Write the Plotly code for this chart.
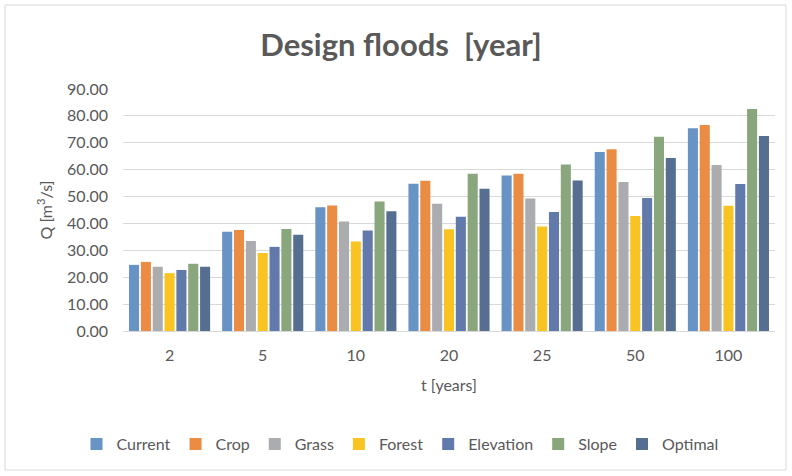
import plotly.graph_objects as go

# Return periods (years) on the category axis
periods = ["2", "5", "10", "20", "25", "50", "100"]

# Design flood discharge Q [m3/s] per land-use / optimisation scenario
current = [24.6, 36.9, 46.0, 54.8, 57.8, 66.6, 75.4]
crop = [25.7, 37.6, 46.7, 55.9, 58.5, 67.6, 76.6]
grass = [23.9, 33.5, 40.7, 47.3, 49.3, 55.4, 61.7]
forest = [21.5, 29.0, 33.3, 37.8, 38.9, 42.8, 46.6]
elevation = [22.7, 31.3, 37.4, 42.5, 44.3, 49.5, 54.7]
slope = [25.0, 37.9, 48.2, 58.5, 61.9, 72.2, 82.6]
optimal = [23.9, 35.8, 44.5, 52.9, 56.0, 64.3, 72.5]

y_ticks = [0, 10, 20, 30, 40, 50, 60, 70, 80, 90]

series = [
    ("Current", current, "#6793c5"),
    ("Crop", crop, "#eb8c45"),
    ("Grass", grass, "#abacb0"),
    ("Forest", forest, "#f9c322"),
    ("Elevation", elevation, "#6279ac"),
    ("Slope", slope, "#89a67c"),
    ("Optimal", optimal, "#566f91"),
]

W, H = 792, 476
L, R, T, B = 123, 17, 89, 145
pw, ph = W - L - R, H - T - B


def px_x(x):
    """Page pixel x -> plot-area paper fraction."""
    return (x - L) / pw


def px_y(y):
    """Page pixel y (from top) -> plot-area paper fraction."""
    return (T + ph - y) / ph


FONT = "Lato, 'Open Sans', sans-serif"
GREY = "#595959"

fig = go.Figure()
for name, vals, col in series:
    fig.add_trace(go.Bar(
        x=periods, y=vals, name=name,
        marker=dict(color=col, line=dict(width=0)),
    ))

# Light frame around the whole chart area
fig.add_shape(
    type="rect", xref="paper", yref="paper", layer="below",
    x0=px_x(5), x1=px_x(W - 6), y0=px_y(H - 6), y1=px_y(5),
    line=dict(color="#d9d9d9", width=1),
)

fig.update_layout(
    width=W, height=H,
    margin=dict(l=L, r=R, t=T, b=B),
    paper_bgcolor="white", plot_bgcolor="white",
    barmode="group", bargap=0.11, bargroupgap=0.15,
    font=dict(family=FONT, size=16, color=GREY),
    title=dict(
        text="<b>Design floods  [year]</b>",
        x=401 / W, xanchor="center",
        y=1 - 45 / H, yanchor="middle",
        font=dict(family=FONT, size=31, color=GREY),
    ),
    xaxis=dict(
        title=dict(text="t [years]", standoff=16, font=dict(size=16, color=GREY)),
        showgrid=False, showline=True, linecolor="#d9d9d9", linewidth=1,
        ticks="", ticklabelstandoff=10,
        tickfont=dict(size=16, color=GREY),
    ),
    yaxis=dict(
        title=dict(text="Q [m<sup>3</sup>/s]", standoff=10, font=dict(size=16, color=GREY)),
        range=[0, 90], tickvals=y_ticks,
        ticktext=[f"{v:.2f}" for v in y_ticks],
        showgrid=True, gridcolor="#d9d9d9", gridwidth=1,
        zeroline=False, ticks="", ticklabelstandoff=14,
        tickfont=dict(size=16, color=GREY),
    ),
    legend=dict(
        orientation="h", x=px_x(400), xanchor="center",
        y=px_y(444), yanchor="middle",
        font=dict(size=16, color=GREY), itemwidth=30,
        traceorder="normal",
    ),
)

fig.write_html("out.html")
